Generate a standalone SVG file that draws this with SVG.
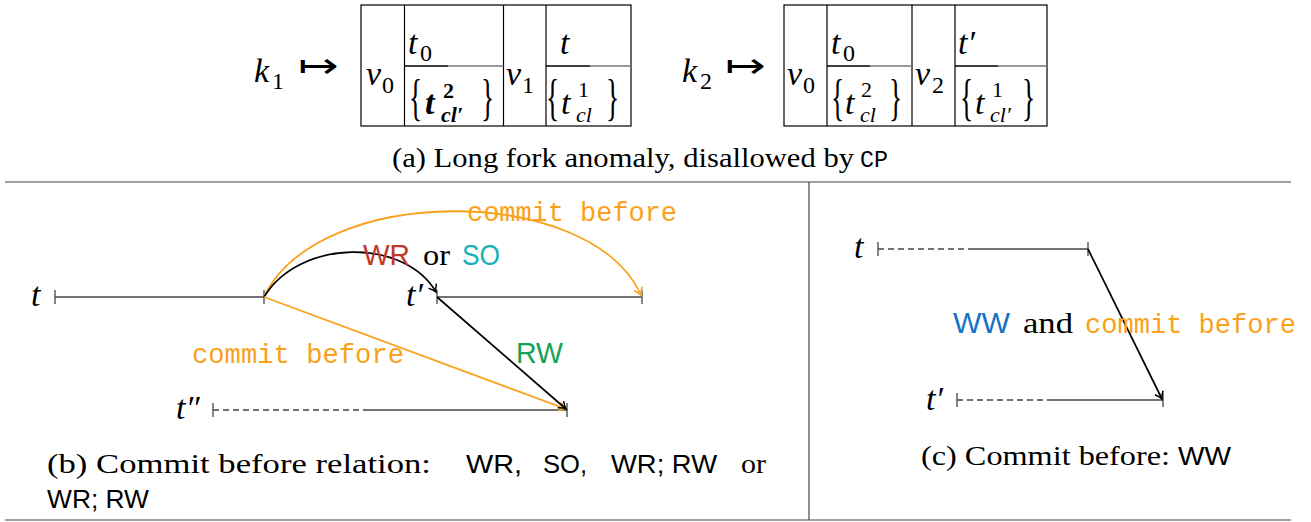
<svg xmlns="http://www.w3.org/2000/svg" width="1311" height="522" viewBox="0 0 1311 522">
<style>
.m{font-family:"Liberation Serif",serif;font-style:italic;font-size:34px;fill:#000}
.r{font-family:"Liberation Serif",serif;font-size:30px;fill:#000}
.sub{font-family:"Liberation Serif",serif;font-size:24px;fill:#000}
.sup{font-family:"Liberation Serif",serif;font-size:22px;fill:#000}
.subi{font-family:"Liberation Serif",serif;font-style:italic;font-size:22px;fill:#000}
.br{font-family:"Liberation Serif",serif;font-size:50px;fill:#000}
.cap{font-family:"Liberation Serif",serif;font-size:28px;fill:#000}
.sans{font-family:"Liberation Sans",sans-serif;font-size:26px;fill:#000}
.mono{font-family:"Liberation Mono",monospace;fill:#000}
.cb{font-family:"Liberation Mono",monospace;font-size:27px;fill:#f9a11b}
.lab{font-family:"Liberation Sans",sans-serif;font-size:29px}
.mapsto{font-family:"Noto Sans CJK JP","DejaVu Sans",sans-serif;font-weight:300;font-size:32px;fill:#000}
.box{fill:none;stroke:#000;stroke-width:1.2}
.tl{fill:none;stroke:#444;stroke-width:1.3}
.dash{fill:none;stroke:#444;stroke-width:1.3;stroke-dasharray:6,4}
.frame{fill:none;stroke:#444;stroke-width:1.2}
.ek{fill:none;stroke:#000;stroke-width:1.7}
.eo{fill:none;stroke:#f9a11b;stroke-width:1.8}
</style>
<defs>
<marker id="ak" viewBox="-9 -6 11 12" markerWidth="11" markerHeight="12" refX="0" refY="0" orient="auto" markerUnits="userSpaceOnUse"><path d="M-7,-4.5 Q-3,-1 0,0 Q-3,1 -7,4.5" fill="none" stroke="#000" stroke-width="1.5"/></marker>
<marker id="ao" viewBox="-9 -6 11 12" markerWidth="11" markerHeight="12" refX="0" refY="0" orient="auto" markerUnits="userSpaceOnUse"><path d="M-7,-4.5 Q-3,-1 0,0 Q-3,1 -7,4.5" fill="none" stroke="#f9a11b" stroke-width="1.6"/></marker>
</defs>

<g id="frame">
<line class="frame" x1="5" y1="182" x2="1291" y2="182"/>
<line class="frame" x1="809" y1="182" x2="809" y2="520"/>
<line class="frame" x1="5" y1="520" x2="1291" y2="520"/>
</g>

<!-- (a) table k1 -->
<g id="table-k1">
<text class="m" x="254" y="82">k</text><text class="sub" x="272" y="89">1</text>
<text class="mapsto" x="298" y="77" textLength="41" lengthAdjust="spacingAndGlyphs">↦</text>
<rect class="box" x="361" y="5" width="270" height="121"/>
<line class="box" x1="404.5" y1="5" x2="404.5" y2="126"/>
<line class="box" x1="503.5" y1="5" x2="503.5" y2="126"/>
<line class="box" x1="546" y1="5" x2="546" y2="126"/>
<line x1="404.5" y1="66" x2="448" y2="66" stroke="#000" stroke-width="1.6"/>
<line x1="448" y1="66" x2="503.5" y2="66" stroke="#777" stroke-width="1.3"/>
<line x1="546" y1="66" x2="590" y2="66" stroke="#000" stroke-width="1.6"/>
<line x1="590" y1="66" x2="631" y2="66" stroke="#777" stroke-width="1.3"/>
<text class="m" x="366" y="85">v</text><text class="sub" x="382" y="93">0</text>
<text class="m" x="408" y="54">t</text><text class="sub" x="420" y="61">0</text>
<text class="br" transform="translate(409,114) scale(0.55,1)">{</text>
<text class="m" x="425" y="114" style="font-weight:bold">t</text>
<text class="sup" x="443" y="98" style="font-weight:bold">2</text>
<text class="subi" x="441" y="122" style="font-weight:bold">cl′</text>
<text class="br" transform="translate(481,114) scale(0.55,1)">}</text>
<text class="m" x="506" y="85">v</text><text class="sub" x="522" y="93">1</text>
<text class="m" x="560" y="54">t</text>
<text class="br" transform="translate(546,114) scale(0.55,1)">{</text>
<text class="m" x="561" y="114">t</text>
<text class="sup" x="578" y="97">1</text>
<text class="subi" x="576" y="122">cl</text>
<text class="br" transform="translate(606,114) scale(0.55,1)">}</text>
</g>

<!-- (a) table k2 -->
<g id="table-k2">
<text class="m" x="682" y="82">k</text><text class="sub" x="700" y="89">2</text>
<text class="mapsto" x="725" y="77" textLength="41" lengthAdjust="spacingAndGlyphs">↦</text>
<rect class="box" x="784" y="5" width="263" height="121"/>
<line class="box" x1="827" y1="5" x2="827" y2="126"/>
<line class="box" x1="912" y1="5" x2="912" y2="126"/>
<line class="box" x1="955" y1="5" x2="955" y2="126"/>
<line x1="827" y1="66" x2="870" y2="66" stroke="#000" stroke-width="1.6"/>
<line x1="870" y1="66" x2="912" y2="66" stroke="#777" stroke-width="1.3"/>
<line x1="955" y1="66" x2="998" y2="66" stroke="#000" stroke-width="1.6"/>
<line x1="998" y1="66" x2="1047" y2="66" stroke="#777" stroke-width="1.3"/>
<text class="m" x="787" y="85">v</text><text class="sub" x="803" y="93">0</text>
<text class="m" x="831" y="54">t</text><text class="sub" x="843" y="61">0</text>
<text class="br" transform="translate(831,114) scale(0.55,1)">{</text>
<text class="m" x="845" y="114">t</text>
<text class="sup" x="861" y="97">2</text>
<text class="subi" x="860" y="122">cl</text>
<text class="br" transform="translate(889,114) scale(0.55,1)">}</text>
<text class="m" x="915" y="85">v</text><text class="sub" x="932" y="93">2</text>
<text class="m" x="958" y="54">t′</text>
<text class="br" transform="translate(960,114) scale(0.55,1)">{</text>
<text class="m" x="975" y="114">t</text>
<text class="sup" x="992" y="97">1</text>
<text class="subi" x="990" y="122">cl′</text>
<text class="br" transform="translate(1022,114) scale(0.55,1)">}</text>
</g>

<g id="caption-a">
<text class="cap" x="392" y="167" textLength="462" lengthAdjust="spacingAndGlyphs">(a) Long fork anomaly, disallowed by</text>
<text class="mono" x="860" y="167" font-size="23" textLength="28" lengthAdjust="spacingAndGlyphs">CP</text>
</g>

<g id="tl-t">
<text class="m" x="31" y="306">t</text>
<line class="tl" x1="55" y1="297" x2="264" y2="297"/>
<line class="tl" x1="55" y1="290" x2="55" y2="304"/>
<line class="tl" x1="264" y1="290" x2="264" y2="304"/>
</g>
<g id="tl-tp">
<text class="m" x="406" y="306">t′</text>
<line class="tl" x1="437" y1="297" x2="642" y2="297"/>
<line class="tl" x1="437" y1="290" x2="437" y2="304"/>
<line class="tl" x1="642" y1="290" x2="642" y2="304"/>
</g>
<g id="tl-tpp">
<text class="m" x="176" y="419">t″</text>
<line class="dash" x1="213" y1="410" x2="368" y2="410"/>
<line class="tl" x1="368" y1="410" x2="567" y2="410"/>
<line class="tl" x1="213" y1="403" x2="213" y2="417"/>
<line class="tl" x1="567" y1="403" x2="567" y2="417"/>
</g>

<g id="connectors-b">
<path class="eo" d="M264,297 C318,183 590,183 641,295" marker-end="url(#ao)"/>
<path class="ek" d="M264,297 C300,238 405,238 436,292" marker-end="url(#ak)"/>
<path class="eo" d="M264,297 L566,409" marker-end="url(#ao)"/>
<path class="ek" d="M437,297 L566,409" marker-end="url(#ak)"/>
</g>

<g id="labels-b">
<text class="cb" x="467" y="221" textLength="210" lengthAdjust="spacingAndGlyphs">commit before</text>
<text class="lab" x="363" y="265" fill="#c0392b" textLength="47" lengthAdjust="spacingAndGlyphs">WR</text>
<text class="r" x="423" y="265" textLength="27" lengthAdjust="spacingAndGlyphs">or</text>
<text class="lab" x="462" y="265" fill="#14b1b6" textLength="38" lengthAdjust="spacingAndGlyphs">SO</text>
<text class="cb" x="192" y="363" textLength="212" lengthAdjust="spacingAndGlyphs">commit before</text>
<text class="lab" x="516" y="363" fill="#14a153" textLength="47" lengthAdjust="spacingAndGlyphs">RW</text>
</g>

<g id="caption-b">
<text class="cap" x="47" y="473" textLength="384" lengthAdjust="spacingAndGlyphs">(b) Commit before relation:</text>
<text class="sans" x="466" y="473" textLength="56" lengthAdjust="spacingAndGlyphs">WR,</text>
<text class="sans" x="543" y="473" textLength="44" lengthAdjust="spacingAndGlyphs">SO,</text>
<text class="sans" x="611" y="473" textLength="106" lengthAdjust="spacingAndGlyphs">WR; RW</text>
<text class="cap" x="741" y="473" textLength="25" lengthAdjust="spacingAndGlyphs">or</text>
<text class="sans" x="47" y="508" textLength="102" lengthAdjust="spacingAndGlyphs">WR; RW</text>
</g>

<g id="tl-c-t">
<text class="m" x="854" y="258">t</text>
<line class="dash" x1="878" y1="249" x2="970" y2="249"/>
<line class="tl" x1="970" y1="249" x2="1088" y2="249"/>
<line class="tl" x1="878" y1="242" x2="878" y2="256"/>
<line class="tl" x1="1088" y1="242" x2="1088" y2="256"/>
</g>
<g id="tl-c-tp">
<text class="m" x="926" y="410">t′</text>
<line class="dash" x1="957" y1="400" x2="1048" y2="400"/>
<line class="tl" x1="1048" y1="400" x2="1163" y2="400"/>
<line class="tl" x1="957" y1="393" x2="957" y2="407"/>
<line class="tl" x1="1163" y1="393" x2="1163" y2="407"/>
</g>
<g id="connectors-c">
<path class="ek" d="M1088,249 L1162,399" marker-end="url(#ak)"/>
</g>
<g id="labels-c">
<text class="lab" x="953" y="333" fill="#1572c2" textLength="57" lengthAdjust="spacingAndGlyphs">WW</text>
<text class="r" x="1023" y="333" textLength="50" lengthAdjust="spacingAndGlyphs">and</text>
<text class="cb" x="1085" y="333" textLength="211" lengthAdjust="spacingAndGlyphs">commit before</text>
</g>
<g id="caption-c">
<text class="cap" x="921" y="465" textLength="249" lengthAdjust="spacingAndGlyphs">(c) Commit before:</text>
<text class="sans" x="1178" y="465" textLength="53" lengthAdjust="spacingAndGlyphs">WW</text>
</g>
</svg>
